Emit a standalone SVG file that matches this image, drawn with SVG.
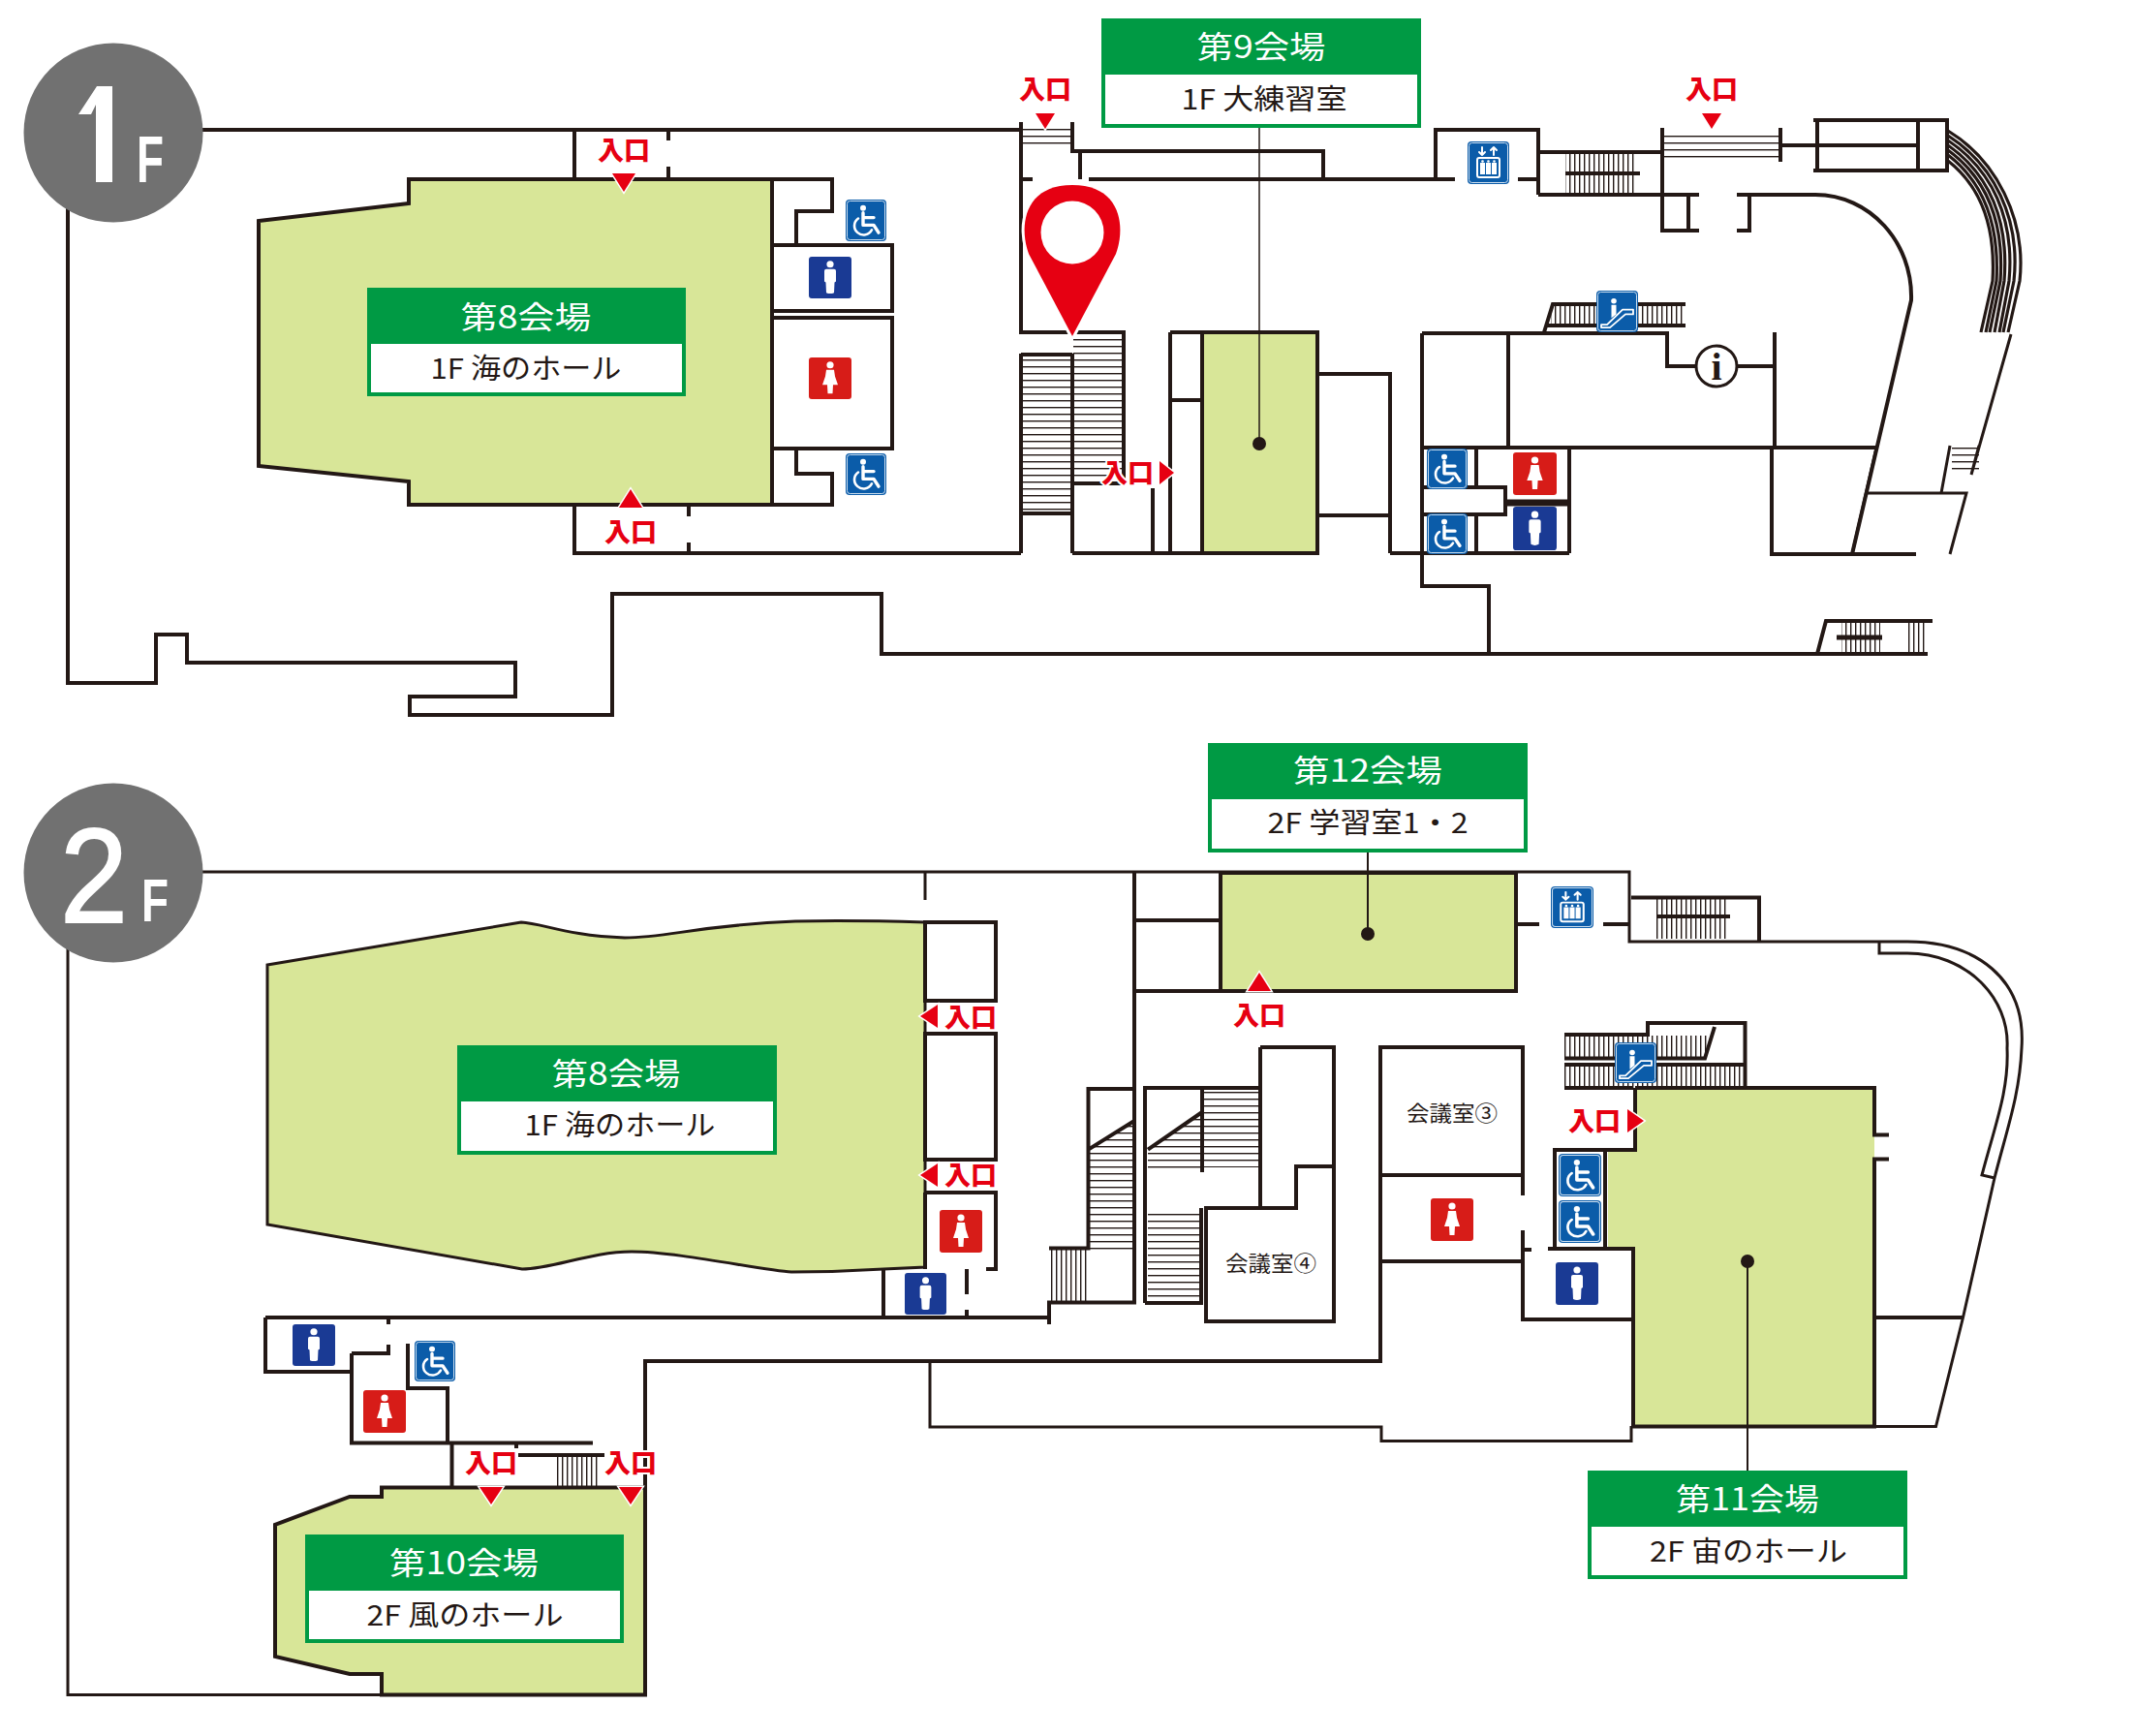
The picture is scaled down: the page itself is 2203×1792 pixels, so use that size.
<svg xmlns="http://www.w3.org/2000/svg" width="2203" height="1792" viewBox="0 0 2203 1792">
<style>
.w{fill:none;stroke:#231815;stroke-width:4;stroke-linejoin:miter}
.t{fill:none;stroke:#231815;stroke-width:3}
.c{fill:none;stroke:#231815;stroke-width:3.2}
.k{fill:none;stroke:#231815;stroke-width:7}
.k4{fill:none;stroke:#231815;stroke-width:4}
.k5{fill:none;stroke:#231815;stroke-width:5}
.hall{fill:#d8e698;stroke:#231815;stroke-width:4}
.hall3{fill:#d8e698;stroke:#231815;stroke-width:3}
.halln{fill:#d8e698}
.h{fill:url(#hh)}
.v{fill:url(#vv)}
.title{font:400 32px "Noto Sans CJK JP","Noto Sans CJK SC",sans-serif;fill:#fff;text-anchor:middle}
.sub{font:400 29px "Noto Sans CJK JP","Noto Sans CJK SC",sans-serif;fill:#231815;text-anchor:middle}
.room{font:400 22px "Noto Sans CJK JP","Noto Sans CJK SC",sans-serif;fill:#231815;text-anchor:middle}
.ent{font:900 27px "Noto Sans CJK JP","Noto Sans CJK SC",sans-serif;fill:#e60012;text-anchor:middle;stroke:#fff;stroke-width:4;paint-order:stroke;stroke-linejoin:round}
.tri{fill:#e60012;stroke:#fff;stroke-width:3;paint-order:stroke;stroke-linejoin:miter}
.g{fill:#009a44}
.wh{fill:#fff}
.fl{font-family:"Liberation Sans",Arial,sans-serif;fill:#fff}
.ic{fill:none;stroke:#fff;stroke-linecap:round;stroke-linejoin:round}
.dot{fill:#231815}
.lead{fill:none;stroke:#231815;stroke-width:1.5}
.lead2{fill:none;stroke:#231815;stroke-width:2}
</style>
<defs>
<pattern id="hh" width="10" height="7" patternUnits="userSpaceOnUse"><rect width="10" height="1.4" fill="#231815"/></pattern>
<pattern id="vv" width="5" height="10" patternUnits="userSpaceOnUse"><rect width="1.4" height="10" fill="#231815"/></pattern>
<symbol id="wc" viewBox="0 0 42 44" preserveAspectRatio="none">
<rect width="42" height="44" rx="4" fill="#0b5ca9"/><rect x="1.5" y="1.5" width="39" height="41" rx="3" fill="none" stroke="#cfe0f0" stroke-width="1"/>
<circle cx="18" cy="9" r="3" fill="#fff"/>
<path class="ic" stroke-width="3.4" d="M18 14V27H29L34 35M18 19H29"/>
<path class="ic" stroke-width="2.6" d="M13 20A9.5 9.5 0 1 0 27 32"/>
</symbol>
<symbol id="man" viewBox="0 0 44 44" preserveAspectRatio="none">
<rect width="44" height="44" rx="3" fill="#1a3a94"/><circle cx="22" cy="8" r="3.6" fill="#fff"/>
<path fill="#fff" d="M16 15Q16 13 18 13H26Q28 13 28 15V26L26.500 27L26 38Q22 40 18 38L17.500 27L16 26Z"/>
</symbol>
<symbol id="woman" viewBox="0 0 44 44" preserveAspectRatio="none">
<rect width="44" height="44" rx="3" fill="#d71c18"/><circle cx="22" cy="8" r="3.6" fill="#fff"/>
<path fill="#fff" d="M18 13H26L27 20L30 29H25L24.500 38H19.500L19 29H14L17 20Z"/>
</symbol>
<symbol id="lift" viewBox="0 0 43 44" preserveAspectRatio="none">
<rect width="43" height="44" rx="4" fill="#0b5ca9"/><rect x="1.500" y="1.500" width="40" height="41" rx="3" fill="none" stroke="#cfe0f0" stroke-width="1"/>
<path class="ic" stroke-width="2" d="M15 6V14M12 11L15 14L18 11M27 14V6M24 9L27 6L30 9"/>
<rect x="10" y="17" width="23" height="20" rx="2" class="ic" stroke-width="2"/>
<path fill="#fff" d="M13 22H18V34H13ZM19 22H24V34H19ZM25 22H30V34H25Z"/>
<circle cx="15.500" cy="20.500" r="1.300" fill="#fff"/><circle cx="21.500" cy="20.500" r="1.300" fill="#fff"/><circle cx="27.500" cy="20.500" r="1.300" fill="#fff"/>
</symbol>
<symbol id="esc" viewBox="0 0 43 44" preserveAspectRatio="none">
<rect width="43" height="44" rx="4" fill="#0b5ca9"/><rect x="1.500" y="1.500" width="40" height="41" rx="3" fill="none" stroke="#cfe0f0" stroke-width="1"/>
<circle cx="18" cy="11" r="2.800" fill="#fff"/>
<path fill="#fff" d="M15.500 15H20.500V25L15.500 29Z"/>
<path class="ic" stroke-width="1.800" d="M5 36H11L27 20H38V25H30L14 39H5Z"/>
</symbol>
</defs>

<g id="stairs">
<rect class="h" x="1056" y="133" width="51" height="20"/>
<rect class="h" x="1056" y="366" width="51" height="164"/>
<rect class="h" x="1108" y="345" width="52" height="154"/>
<rect class="h" x="1718" y="136" width="120" height="29"/>
<rect class="v" x="1616" y="158" width="72" height="42"/>
<rect class="v" x="1601" y="314" width="139" height="22"/>
<rect class="v" x="1901" y="643" width="40" height="31"/>
<rect class="h" x="2015" y="460" width="28" height="30"/>
<rect class="v" x="1710" y="928" width="74" height="41"/>
<rect class="v" x="1615" y="1069" width="150" height="23"/>
<rect class="v" x="1615" y="1100" width="185" height="23"/>
<rect class="h" x="1243" y="1125" width="58" height="80"/>
<path class="h" d="M1185 1186L1241 1148V1208H1185Z"/>
<rect class="h" x="1185" y="1249" width="54" height="94"/>
<path class="h" d="M1125 1186L1171 1157V1292H1125Z"/>
<rect class="v" x="1085" y="1290" width="38" height="54"/>
<rect class="v" x="574" y="1504" width="43" height="30"/>
</g>

<g id="halls">
<path id="hall-1f-8" class="hall" d="M422 185H797V521H422V497L267 481V228L422 210Z"/>
<rect id="hall-1f-9" class="hall" x="1241" y="343" width="119" height="228"/>
<path id="hall-2f-8" class="hall3" d="M276 996L538 952C560 953 585 966 645 968C690 968 720 955 821 951C870 950 920 951 955 952V1308L912 1310C880 1312 850 1313 817 1313C790 1312 700 1292 652 1292C610 1292 570 1310 539 1310L276 1264Z"/>
<path id="hall-2f-10" class="hall" d="M394 1535.500H666V1749.500H394V1728H361L284 1710V1574L361 1545H394Z"/>
<rect id="hall-2f-12" class="hall" x="1260" y="901" width="305" height="122"/>
<path id="hall-2f-11" class="halln" d="M1688 1123H1935V1472H1686V1289H1660V1187H1688Z"/>
</g>

<g id="walls-1f">
<path class="w" d="M200 134H1054M70 205V705H161V655H193V684H532V719H423V738H632V613H910V675H1990"/>
<path class="w" d="M593 134V185M690 134V145M690 172V185M593 521V571H1054M711 521V533M711 560V571"/>
<path class="w" d="M797 185H859V218H822V253M797 253H921V321H797M797 328H921V463H797M822 463V489H859V521H797"/>
<path class="w" d="M1054 126V343H1160V499H1107M1107 365V571M1054 530H1107M1054 366H1107M1054 365V571"/>
<path class="w" d="M1107 126V156H1366V185M1115 156V185M1054 185H1066M1124 185H1502M1482 185V134H1588V201M1567 185H1588M1588 157H1716M1588 201H1754"/>
<path class="w" d="M1107 571H1360M1208 343V571M1208 343H1360M1208 413H1241M1190 504V571M1360 386H1435V571M1360 532H1435M1435 571H1620"/>
<path class="k4" d="M1616 179H1693"/>
<path class="w" d="M1716 132V238H1754M1743 201V238M1793 201H1806V238H1793M1806 201H1874C1930 201 1975 250 1973 310L1912 572"/>
<path class="w" d="M1838 132V167M1838 150H1980M1872 124H2010V176H1872M1876 122V178M1980 122V178"/>
<path class="t" d="M2076 345L2035 490M2013 460L2004 509M2043 460L2035 490"/>
<path class="t" d="M1927 509H2030L2013 572M1937 462L1912 572"/>
<path class="w" d="M1829 462V572H1978M1468 344V605H1537V675M1468 462H1937M1557 344V462M1468 344H1721V378H1751M1794 378H1832M1832 343V462"/>
<path class="w" d="M1620 462V571M1468 503H1554V531H1468M1524 462V503M1524 531V571"/>
<path class="k" d="M1554 519H1620"/>
<path class="w" d="M1594 343L1603 314H1740M1597 336H1740"/>
<path class="w" d="M1876 675L1885 641H1995"/>
<rect class="v" x="1969" y="643" width="21" height="31"/>
<path class="k5" d="M1896 658H1943"/>
<g id="curved-stair">
<path class="c" d="M2011 135C2060 165 2092 225 2085 290L2073 343"/>
<path class="c" d="M2011 140C2058 170 2086 225 2079 290L2068 343"/>
<path class="c" d="M2011 145C2056 175 2080 225 2074 290L2064 343"/>
<path class="c" d="M2011 150C2054 180 2074 228 2069 290L2059 343"/>
<path class="c" d="M2011 155C2052 185 2069 232 2065 290L2054 343"/>
<path class="c" d="M2011 160C2050 190 2064 236 2061 290L2050 343"/>
<path class="c" d="M2011 166C2048 195 2060 240 2057 290L2045 343"/>
</g>
</g>

<g id="walls-2f">
<path class="t" d="M200 900H1682V972H1938M70 970V1749.500H394"/>
<path class="w" d="M666 1535V1405H1425V1081H1572V1234M1572 1270V1362H1686M1425 1213H1572M1425 1302H1572M1572 1290H1581"/>
<path class="w" d="M955 952H1028V1033H955ZM955 1067H1028V1197H955ZM955 1231H1028V1310H1018M955 1231V1310M912 1310V1360M998 1310V1336M998 1352V1360"/>
<path class="t" d="M955 900V929"/>
<path class="w" d="M274 1360H1083M274 1360V1416H363M363 1397V1489.500H612M363 1397H401V1388M401 1360V1367M421 1387V1433H462V1489M466.500 1489V1535M535 1502H624M533 1489V1495"/>
<path class="t" d="M960 1405V1473H1426V1487.500H1684V1472"/>
<path class="w" d="M1171 900V1344.600H1083V1367M1083 1288.600H1123.500V1124H1171M1123.500 1186.600L1171 1157"/>
<path class="w" d="M1182 1345V1123H1301M1182 1345H1240V1247M1241 1123V1210M1185 1186.600L1241 1148"/>
<path class="w" d="M1245 1247H1338V1204H1377V1364H1245ZM1301 1081H1377V1204M1301 1081V1247"/>
<path class="w" d="M1171 950H1260M1171 1023H1260M1565 954H1589M1655 954H1682M1684 926.500H1816V972M1710 946H1786"/>
<path class="w" d="M1688 1123H1935V1171.500H1950M1950 1196.500H1935V1472.500H1686V1289H1598M1688 1123V1187H1605V1287M1657 1187V1289M1935 1360H2026.500"/>
<path class="t" d="M1686 1472.500H1998.500L2026.500 1360L2059 1216M1938 972H1969C2040 972 2092 1010 2087 1082C2085 1130 2072 1165 2059 1216L2046 1213C2060 1160 2074 1125 2072 1082C2075 1030 2030 984 1969 984H1940V972"/>
<path class="w" d="M1615 1068H1701V1056H1801.500V1123M1615 1092.500H1760L1770 1060M1615 1099H1800M1615 1123H1686"/>
</g>

<g id="connectors">
<path class="lead" d="M1300 132V458"/>
<circle class="dot" cx="1300" cy="458" r="7"/>
<path class="lead2" d="M1412 880V964"/>
<circle class="dot" cx="1412" cy="964" r="7"/>
<path class="lead2" d="M1804 1518V1302"/>
<circle class="dot" cx="1804" cy="1302" r="7"/>
</g>

<g id="icons">
<use href="#wc" x="873" y="206" width="42" height="43"/>
<use href="#man" x="835" y="265" width="44" height="43"/>
<use href="#woman" x="835" y="369" width="44" height="43"/>
<use href="#wc" x="873" y="468" width="42" height="43"/>
<use href="#lift" x="1515" y="146" width="43" height="44"/>
<use href="#esc" x="1648" y="300" width="43" height="43"/>
<use href="#wc" x="1473" y="463" width="42" height="42"/>
<use href="#wc" x="1473" y="530" width="42" height="42"/>
<use href="#woman" x="1562" y="467" width="45" height="44"/>
<use href="#man" x="1562" y="523" width="45" height="45"/>
<g id="info"><circle cx="1772" cy="378" r="21" fill="#fff" stroke="#231815" stroke-width="3"/><text x="1772" y="392" font-family="Liberation Serif,serif" font-weight="700" font-size="40" text-anchor="middle" fill="#231815">i</text></g>
<use href="#woman" x="970" y="1249" width="44" height="44"/>
<use href="#man" x="934" y="1314" width="43" height="43"/>
<use href="#man" x="302" y="1367" width="44" height="43"/>
<use href="#wc" x="428" y="1384" width="42" height="42"/>
<use href="#woman" x="375" y="1435" width="44" height="44"/>
<use href="#lift" x="1601" y="915" width="44" height="43"/>
<use href="#esc" x="1667" y="1076" width="43" height="42"/>
<use href="#wc" x="1609" y="1191" width="44" height="44"/>
<use href="#wc" x="1609" y="1239" width="44" height="44"/>
<use href="#woman" x="1477" y="1237" width="44" height="44"/>
<use href="#man" x="1606" y="1303" width="44" height="44"/>
</g>

<g id="floor-1f"><circle cx="117" cy="137" r="92.500" fill="#717171"/><path class="wh" d="M81 118L100 89H116V188H99V108L94 118Z"/><text class="fl" x="141" y="188" font-size="68" font-weight="700" textLength="28" lengthAdjust="spacingAndGlyphs">F</text></g>
<g id="floor-2f"><circle cx="117" cy="901" r="92.500" fill="#717171"/><text class="fl" x="62" y="952" font-size="140" stroke="#fff" stroke-width="2" textLength="70" lengthAdjust="spacingAndGlyphs">2</text><text class="fl" x="146" y="951" font-size="63" font-weight="700" textLength="28" lengthAdjust="spacingAndGlyphs">F</text></g>

<g id="label-1f-8"><rect class="g" x="379" y="297" width="329" height="112"/><rect class="wh" x="383" y="355" width="321" height="50"/><text class="title" x="543" y="339" textLength="135" lengthAdjust="spacingAndGlyphs">第8会場</text><text class="sub" x="543" y="391" textLength="197" lengthAdjust="spacingAndGlyphs">1F 海のホール</text></g>
<g id="label-1f-9"><rect class="g" x="1137" y="19" width="330" height="113"/><rect class="wh" x="1141" y="77" width="322" height="51"/><text class="title" x="1302" y="60" textLength="133" lengthAdjust="spacingAndGlyphs">第9会場</text><text class="sub" x="1305" y="113" textLength="171" lengthAdjust="spacingAndGlyphs">1F 大練習室</text></g>
<g id="label-2f-8"><rect class="g" x="472" y="1079" width="330" height="113"/><rect class="wh" x="476" y="1137" width="322" height="51"/><text class="title" x="636" y="1120" textLength="133" lengthAdjust="spacingAndGlyphs">第8会場</text><text class="sub" x="640" y="1172" textLength="197" lengthAdjust="spacingAndGlyphs">1F 海のホール</text></g>
<g id="label-2f-10"><rect class="g" x="315" y="1584" width="329" height="112"/><rect class="wh" x="319" y="1642" width="321" height="50"/><text class="title" x="479" y="1625" textLength="154" lengthAdjust="spacingAndGlyphs">第10会場</text><text class="sub" x="480" y="1678" textLength="203" lengthAdjust="spacingAndGlyphs">2F 風のホール</text></g>
<g id="label-2f-12"><rect class="g" x="1247" y="767" width="330" height="113"/><rect class="wh" x="1251" y="825" width="322" height="51"/><text class="title" x="1412" y="807" textLength="154" lengthAdjust="spacingAndGlyphs">第12会場</text><text class="sub" x="1412" y="860" textLength="207" lengthAdjust="spacingAndGlyphs">2F 学習室1・2</text></g>
<g id="label-2f-11"><rect class="g" x="1639" y="1518" width="330" height="112"/><rect class="wh" x="1643" y="1576" width="322" height="50"/><text class="title" x="1804" y="1559" textLength="148" lengthAdjust="spacingAndGlyphs">第11会場</text><text class="sub" x="1805" y="1612" textLength="204" lengthAdjust="spacingAndGlyphs">2F 宙のホール</text></g>

<g id="room-3"><text class="room" x="1499" y="1157" textLength="94" lengthAdjust="spacingAndGlyphs">会議室③</text></g>
<g id="room-4"><text class="room" x="1312" y="1312" textLength="94" lengthAdjust="spacingAndGlyphs">会議室④</text></g>

<g id="entrances">
<g><path class="tri" d="M632 179H656L644 198Z"/><text class="ent" x="644" y="165">入口</text></g>
<g><path class="tri" d="M639 524H663L651 505Z"/><text class="ent" x="651" y="559">入口</text></g>
<g><path class="tri" d="M1069 117H1089L1079 133Z"/><text class="ent" x="1079" y="102">入口</text></g>
<g><path class="tri" d="M1757 117H1777L1767 133Z"/><text class="ent" x="1767" y="102">入口</text></g>
<g><path class="tri" d="M1197 476V500L1212 488Z"/><text class="ent" x="1164" y="498">入口</text></g>
<g><path class="tri" d="M968 1037V1061L950 1049Z"/><text class="ent" x="1002" y="1060">入口</text></g>
<g><path class="tri" d="M968 1201V1225L950 1213Z"/><text class="ent" x="1002" y="1223">入口</text></g>
<g><path class="tri" d="M495 1535H519L507 1553Z"/><text class="ent" x="507" y="1520">入口</text></g>
<g><path class="tri" d="M639 1535H663L651 1553Z"/><text class="ent" x="651" y="1520">入口</text></g>
<g><path class="tri" d="M1288 1023H1312L1300 1004Z"/><text class="ent" x="1300" y="1058">入口</text></g>
<g><path class="tri" d="M1680 1145V1169L1697 1157Z"/><text class="ent" x="1646" y="1167">入口</text></g>
</g>

<g id="pin"><path fill="#e60012" stroke="#fff" stroke-width="6" stroke-linejoin="round" paint-order="stroke" d="M1107 347L1062 262C1052 235 1056 191 1107 191C1158 191 1162 235 1152 262Z"/><circle cx="1107" cy="240" r="32.500" fill="#fff"/></g>
</svg>
